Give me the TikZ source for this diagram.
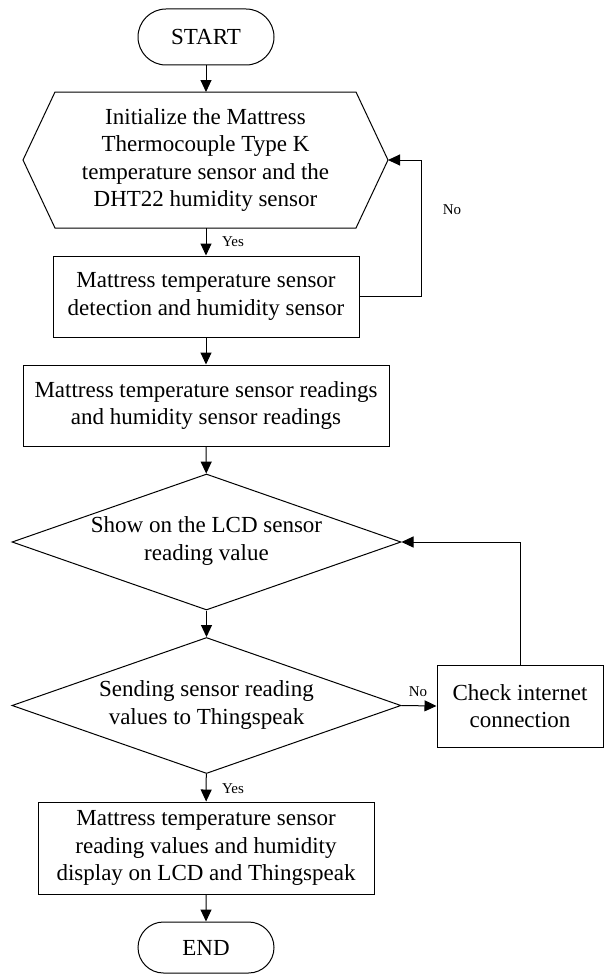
\documentclass[tikz,border=0pt]{standalone}
\usepackage{fontspec}
\setmainfont{Liberation Serif}
\usetikzlibrary{arrows.meta,shapes.misc,shapes.geometric}
\begin{document}
\begin{tikzpicture}[x=1pt,y=-1pt, line width=1pt,
  every node/.style={font=\fontsize{23}{27.5}\selectfont},
  box/.style={draw, rectangle, align=center, inner sep=0pt},
  term/.style={draw, rounded rectangle, minimum width=136pt, minimum height=56pt, inner sep=0pt},
  dia/.style={draw, diamond, minimum width=389pt, minimum height=136pt, inner sep=0pt},
  txt/.style={align=center, inner sep=0pt},
  arr/.style={-{Triangle[length=12pt,width=11pt]}},
  lbl/.style={font=\fontsize{15}{18}\selectfont, inner sep=0pt}
]
\useasboundingbox (0,0) rectangle (603,974);

% terminals
\node[term] (start) at (206,37) {START};
\node[term, minimum height=51pt] (end) at (206,947.5) {END};

% hexagon (preparation)
\coordinate (hexL) at (23,160);
\coordinate (hexTL) at (55,92);
\coordinate (hexTR) at (356,92);
\coordinate (hexR) at (388,160);
\coordinate (hexBR) at (356,228);
\coordinate (hexBL) at (55,228);
\coordinate (hexT) at (206,92);
\coordinate (hexB) at (206,228);
\draw (hexL) -- (hexTL) -- (hexTR) -- (hexR) -- (hexBR) -- (hexBL) -- cycle;
\node[txt] (init) at (205.5,160) {Initialize the Mattress\\Thermocouple Type K\\temperature sensor and the\\DHT22 humidity sensor};

% process boxes
\node[box, minimum width=306pt, minimum height=81pt] (det) at (206,296.5) {Mattress temperature sensor\\detection and humidity sensor};
\node[box, minimum width=366pt, minimum height=81pt] (read) at (206,405.5) {Mattress temperature sensor readings\\and humidity sensor readings};

% decisions
\node[dia] (show) at (206.5,542) {};
\node[txt] (showt) at (206.5,541) {Show on the LCD sensor\\reading value};
\node[dia] (send) at (206.5,705.5) {};
\node[txt] (sendt) at (206.5,705) {Sending sensor reading\\values to Thingspeak};

\node[box, minimum width=166pt, minimum height=82pt] (check) at (520,706) {Check internet\\connection};
\node[box, minimum width=336pt, minimum height=92pt] (disp) at (206,848) {Mattress temperature sensor\\reading values and humidity\\display on LCD and Thingspeak};

% connectors
\draw[arr] (start) -- (hexT);
\draw[arr] (hexB) -- (det);
\draw[arr] (det) -- (read);
\draw[arr] (read) -- (show);
\draw[arr] (show) -- (send);
\draw[arr] (send) -- (disp);
\draw[arr] (disp) -- (end);
\draw[arr] (send.east) -- (check.west);
\draw[arr] (check.north) |- (show.east);
\draw[arr] (det.east) -- ++(62,0) |- (hexR);

% labels
\node[lbl] (yes1) at (233,242) {Yes};
\node[lbl] (no1) at (452,210) {No};
\node[lbl] (no2) at (418,692) {No};
\node[lbl] (yes2) at (233,789) {Yes};
\end{tikzpicture}
\end{document}
